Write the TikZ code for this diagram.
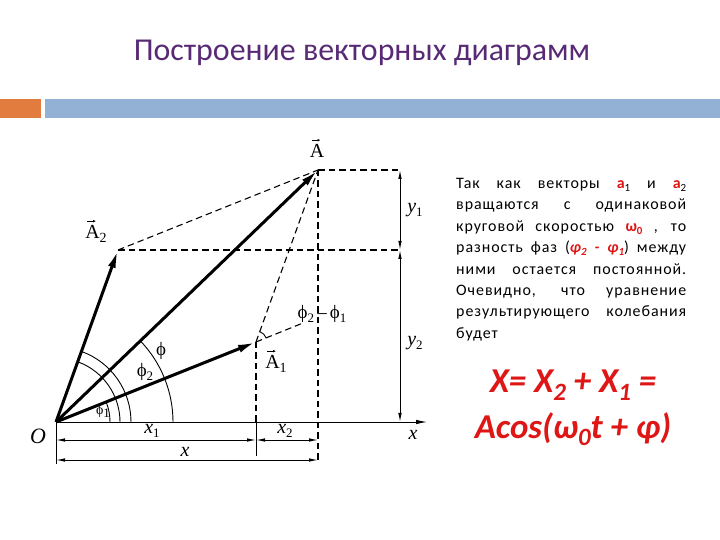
\documentclass[tikz,border=0pt]{standalone}
\usepackage{fontspec}
\setmainfont{Carlito}
\newfontfamily\figfont{Liberation Serif}
\newfontfamily\parafont[LetterSpace=6]{Carlito}
\usepackage{xcolor}
\usetikzlibrary{arrows.meta,positioning}
\definecolor{titlepurple}{RGB}{88,42,118}
\definecolor{barorange}{RGB}{226,124,62}
\definecolor{barblue}{RGB}{147,177,212}
\definecolor{formred}{RGB}{222,22,22}

\newcommand{\vA}[1]{A\raisebox{-0.45ex}{\fontsize{14}{14}\selectfont #1}}
\newcommand{\phis}[1]{ϕ\raisebox{-0.45ex}{\fontsize{13}{13}\selectfont #1}}
\newcommand{\letsub}[2]{\textit{#1}\raisebox{-0.45ex}{\fontsize{13}{13}\selectfont #2}}
\newcommand{\redsub}[1]{\raisebox{-0.4ex}{\fontsize{11}{11}\selectfont #1}}
\newcommand{\bigsub}[1]{\raisebox{-0.45ex}{\fontsize{25}{25}\selectfont #1}}

\begin{document}
\begin{tikzpicture}[x=1bp,y=1bp,
    vec/.style={line width=3bp,-{Latex[length=18bp,width=8bp]}},
    dim/.style={line width=0.9bp,{Latex[length=9bp,width=3.5bp]}-{Latex[length=9bp,width=3.5bp]}},
    aux/.style={line width=1.1bp,dash pattern=on 6.5bp off 4bp},
    thin line/.style={line width=0.9bp},
    overarrow/.style={line width=0.6bp,-{Latex[length=3bp,width=2.5bp]}},
    lbl/.style={font=\figfont\fontsize{20}{20}\selectfont,inner sep=1pt},
    anglbl/.style={font=\figfont\fontsize{19}{19}\selectfont,inner sep=1pt}]
    \useasboundingbox (0,0) rectangle (720,540);

    \fill[barorange] (0,422) rectangle (41,441);
    \fill[barblue] (45,422) rectangle (720,441);
    \node[text=titlepurple,font=\fontsize{32}{32}\selectfont] (title) at (362,487) {Построение векторных диаграмм};

    \coordinate (O) at (56,118);
    \coordinate (A1) at (256,198);
    \coordinate (A2) at (118,290);
    \coordinate (A) at (318,370);
    \coordinate (xend) at (427,118);
    \coordinate (ext) at (303,217);
    \coordinate (y1top) at (400,370);
    \coordinate (y1bot) at (400,290);
    \coordinate (y2bot) at (400,118);
    \coordinate (Ox1) at (56,100);
    \coordinate (A1x1) at (256,100);
    \coordinate (Ax2) at (318,100);
    \coordinate (Ox) at (56,80);
    \coordinate (Ax) at (318,80);

    \draw[thin line,-{Latex[length=11bp,width=4.5bp]}] (O) -- (xend);

    \begin{scope}[aux]
        \draw (A2) -- (A);
        \draw (A1) -- (A);
        \draw (A2) -- (y1bot);
        \draw (A) -- (y1top);
        \draw (A) -- (318,76);
        \draw (A1) -- (256,118);
        \draw (A1) -- (ext);
    \end{scope}
    \draw[thin line] (256,118) -- (256,84);
    \draw[thin line] (O) -- (56,76);

    \draw[dim] (y1top) -- (y1bot);
    \draw[dim] (y1bot) -- (y2bot);
    \draw[dim] (Ox1) -- (A1x1);
    \draw[dim] (A1x1) -- (Ax2);
    \draw[dim] (Ox) -- (Ax);

    \begin{scope}[thin line]
        \draw (O) ++(54,0) arc[start angle=0,end angle=21.8,radius=54];
        \draw (O) ++(64,0) arc[start angle=0,end angle=70.2,radius=64];
        \draw (O) ++(75,0) arc[start angle=0,end angle=70.2,radius=75];
        \draw (O) ++(117,0) arc[start angle=0,end angle=43.9,radius=117];
        \draw (A1) ++(21.8:11) arc[start angle=21.8,end angle=70.2,radius=11];
    \end{scope}

    \draw[vec] (O) -- (A1);
    \draw[vec] (O) -- (A2);
    \draw[vec] (O) -- (A);

    \node[lbl] (labA) at (317,387) {\vA{}};
    \node[lbl] (labA2) at (96,306) {\vA{2}};
    \node[lbl] (labA1) at (276,176) {\vA{1}};
    \draw[overarrow] ([xshift=3bp,yshift=3bp]labA.north west) -- ++(9bp,0);
    \draw[overarrow] ([xshift=3bp,yshift=3bp]labA2.north west) -- ++(9bp,0);
    \draw[overarrow] ([xshift=3bp,yshift=3bp]labA1.north west) -- ++(9bp,0);
    \node[lbl] (laby1) at (415,330) {\letsub{y}{1}};
    \node[lbl] (laby2) at (415,197) {\letsub{y}{2}};
    \node[lbl] (labx) at (413,105) {\textit{x}};
    \node[lbl,font=\figfont\fontsize{22}{22}\selectfont] (labO) at (38,104) {\textit{O}};
    \node[lbl] (labx1) at (152,109) {\letsub{x}{1}};
    \node[lbl] (labx2) at (285,109) {\letsub{x}{2}};
    \node[lbl] (labxx) at (185,88) {\textit{x}};
    \node[anglbl] (labphi) at (161,189) {ϕ};
    \node[anglbl] (labphi2) at (145,168) {\phis{2}};
    \node[anglbl,font=\figfont\fontsize{14}{14}\selectfont] (labphi1) at (103,129) {\phis{1}};
    \node[anglbl] (labdiff) at (322,226) {\phis{2}\,–\,\phis{1}};

    \node[anchor=north west,inner sep=0pt,align=left,font=\parafont\fontsize{16}{21.5}\selectfont] (para) at (456,362) {%
        \makebox[230bp][s]{Так как векторы {\color{formred}\bfseries a}\redsub{1} и {\color{formred}\bfseries a}\redsub{2}}\\
        \makebox[230bp][s]{вращаются с одинаковой}\\
        \makebox[230bp][s]{круговой скоростью {\color{formred}\bfseries ω\redsub{0}} , то}\\
        \makebox[230bp][s]{разность фаз ({\color{formred}\bfseries\itshape φ\redsub{2} - φ\redsub{1}}) между}\\
        \makebox[230bp][s]{ними остается постоянной.}\\
        \makebox[230bp][s]{Очевидно, что уравнение}\\
        \makebox[230bp][s]{результирующего колебания}\\
        будет};

    \begin{scope}[every node/.append style={text=formred,font=\bfseries\itshape\fontsize{35}{35}\selectfont}]
        \node (form1) at (573,155) {X= X\bigsub{2} + X\bigsub{1} =};
        \node (form2) at (573,111) {Acos(ω\bigsub{0}t + φ)};
    \end{scope}
\end{tikzpicture}
\end{document}
